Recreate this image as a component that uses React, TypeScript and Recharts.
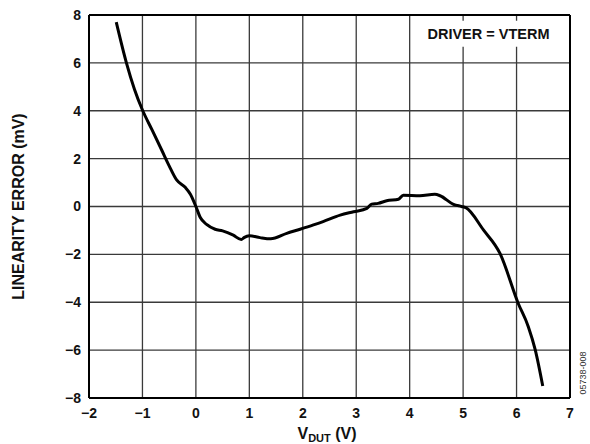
import React from 'react'
import { LineChart, Line, XAxis, YAxis, CartesianGrid, ReferenceLine, ReferenceArea } from 'recharts'

// V_DUT (V) readings
const vdut = [
  -1.49, -1.3, -1.15, -1.0, -0.82, -0.64, -0.5, -0.36, -0.2, -0.1, 0.0, 0.08, 0.2, 0.36, 0.5, 0.7,
  0.85, 0.9, 1.0, 1.2, 1.4, 1.7, 1.95, 2.2, 2.38, 2.7, 2.95, 3.2, 3.29, 3.41, 3.57, 3.79, 3.88,
  4.19, 4.47, 4.57, 4.82, 4.97, 5.05, 5.38, 5.69, 6.03, 6.22, 6.35, 6.49,
]

// linearity error (mV)
const linErr = [
  7.7, 6.0, 4.9, 4.03, 3.2, 2.36, 1.7, 1.11, 0.8, 0.5, 0.0, -0.45, -0.75, -0.95, -1.02, -1.2,
  -1.38, -1.3, -1.22, -1.3, -1.35, -1.12, -0.95, -0.77, -0.63, -0.36, -0.22, -0.08, 0.1, 0.13, 0.24, 0.3, 0.47,
  0.45, 0.51, 0.45, 0.09, 0.0, -0.05, -0.98, -1.96, -4.04, -5.02, -5.99, -7.5,
]

const xTicks = [-2, -1, 0, 1, 2, 3, 4, 5, 6, 7]
const yTicks = [-8, -6, -4, -2, 0, 2, 4, 6, 8]

const data = vdut.map((v, i) => ({ v, e: linErr[i] }))

const FONT = '"Liberation Sans", Arial, sans-serif'
const fmt = (n: number) => (n < 0 ? '\u2212' + Math.abs(n) : String(n))

const tickStyle = { fontFamily: FONT, fontSize: 14, fontWeight: 'bold', fill: '#111' }

export default function App() {
  return (
    <div style={{ position: 'absolute', left: 0, top: 0, width: 590, height: 444, background: '#fff' }}>
      <LineChart width={590} height={444} data={data} margin={{ top: 15, right: 20, left: 0, bottom: 0 }}>
        <CartesianGrid stroke="#3a3a3a" strokeWidth={1.3} />
        <XAxis
          dataKey="v"
          type="number"
          domain={[-2, 7]}
          ticks={xTicks}
          tickFormatter={fmt}
          height={46}
          tickLine={false}
          axisLine={false}
          tickSize={0}
          tickMargin={10}
          tick={tickStyle}
          interval={0}
          allowDataOverflow
        />
        <YAxis
          type="number"
          domain={[-8, 8]}
          ticks={yTicks}
          tickFormatter={fmt}
          width={89}
          tickLine={false}
          axisLine={false}
          tickSize={0}
          tickMargin={8}
          tick={tickStyle}
          interval={0}
          allowDataOverflow
          label={{
            value: 'LINEARITY ERROR (mV)',
            angle: -90,
            position: 'insideLeft',
            dx: 13,
            dy: 0,
            style: { fontFamily: FONT, fontSize: 16, fontWeight: 'bold', fill: '#111', textAnchor: 'middle' },
          }}
        />
        <ReferenceArea
          x1={4.1}
          x2={6.85}
          y1={6.67}
          y2={7.76}
          fill="#fff"
          fillOpacity={1}
          stroke="none"
          label={{ value: 'DRIVER = VTERM', position: 'center', style: { fontFamily: FONT, fontSize: 14.5, fontWeight: 'bold', fill: '#111' } }}
        />
        <ReferenceLine y={8} stroke="#000" strokeWidth={2} />
        <ReferenceLine y={-8} stroke="#000" strokeWidth={2} />
        <ReferenceLine x={-2} stroke="#000" strokeWidth={2} />
        <ReferenceLine x={7} stroke="#000" strokeWidth={2} />
        <Line type="monotone" dataKey="e" stroke="#000" strokeWidth={3} dot={false} isAnimationActive={false} />
        <text x={327} y={439} textAnchor="middle" fontFamily={FONT} fontWeight="bold" fontSize={16} fill="#111">
          V<tspan fontSize={11} dy={3}>DUT</tspan>
          <tspan dy={-3}> (V)</tspan>
        </text>
        <text x={586} y={373} transform="rotate(-90 586 373)" textAnchor="middle" fontFamily={FONT} fontSize={9} fill="#333">
          05738-008
        </text>
      </LineChart>
    </div>
  )
}
